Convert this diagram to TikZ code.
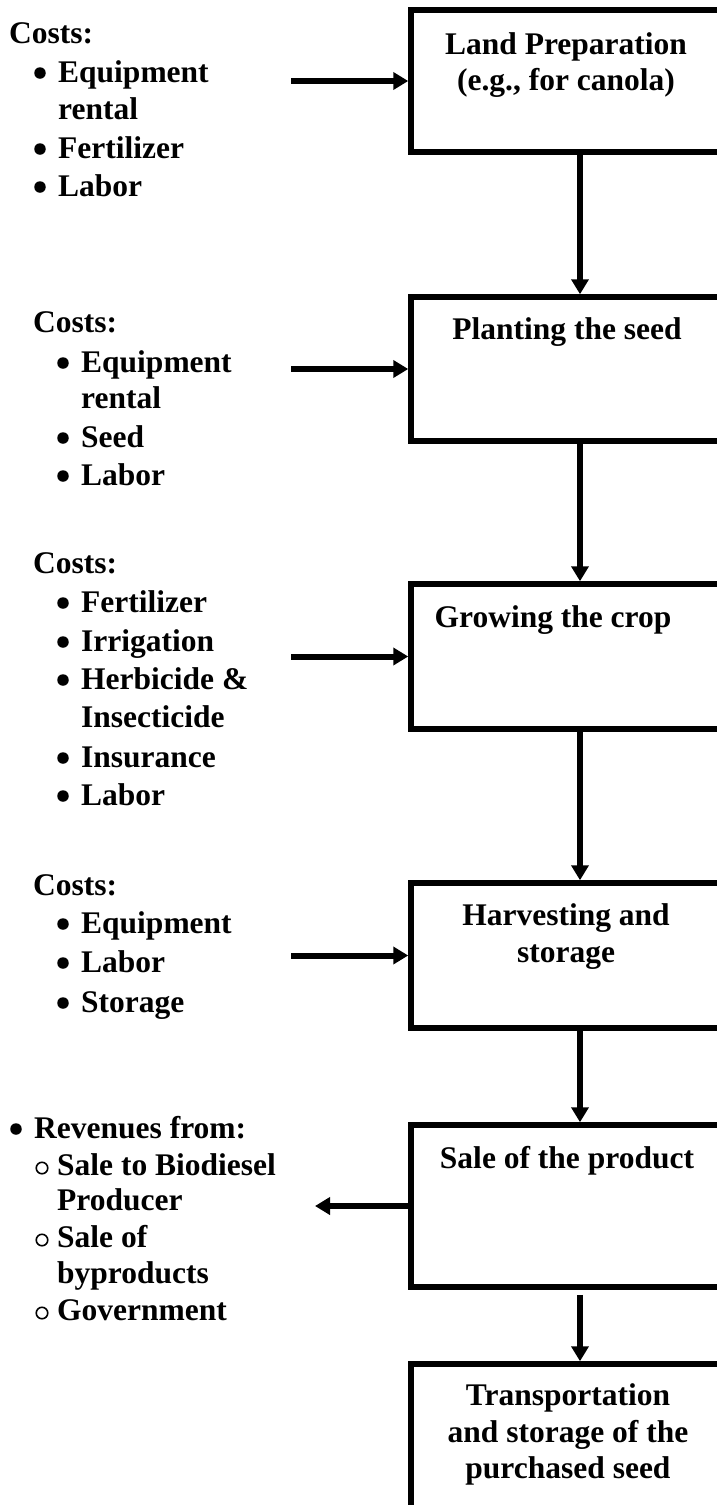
\documentclass[tikz,border=0pt]{standalone}
\usepackage{fontspec}
\setmainfont{Liberation Serif}
\usetikzlibrary{arrows.meta}
\tikzset{
  box/.style={draw, line width=5.5pt, rectangle, inner sep=0pt, minimum width=314pt},
  lbl/.style={font=\bfseries\fontsize{31.5}{37}\selectfont, inner sep=0pt, anchor=base},
  lft/.style={lbl, anchor=base west},
  dot/.style={circle, fill, inner sep=0pt, minimum size=11.5pt},
  ring/.style={circle, draw, line width=1.6pt, inner sep=0pt, minimum size=11.5pt},
  arr/.style={line width=6pt, -{Triangle[length=15pt,width=17pt]}}
}
\begin{document}
\begin{tikzpicture}[x=1pt,y=-1pt]
\useasboundingbox (0,0) rectangle (717,1505);
% boxes
\node[box, minimum height=142pt] (b1) at (568,81) {};
\node[box, minimum height=144pt] (b2) at (568,369) {};
\node[box, minimum height=145pt] (b3) at (568,656.5) {};
\node[box, minimum height=145pt] (b4) at (568,955.5) {};
\node[box, minimum height=162pt] (b5) at (568,1206) {};
\node[box, minimum height=166pt] (b6) at (568,1447) {};
% box texts
\node[lbl] (t1a) at (566,54) {Land Preparation};
\node[lbl] (t1b) at (566,90) {(e.g., for canola)};
\node[lbl] (t2) at (567,339) {Planting the seed};
\node[lbl] (t3) at (553,627) {Growing the crop};
\node[lbl] (t4a) at (566,925) {Harvesting and};
\node[lbl] (t4b) at (566,962) {storage};
\node[lbl] (t5) at (567,1168) {Sale of the product};
\node[lbl] (t6a) at (568,1405) {Transportation};
\node[lbl] (t6b) at (568,1442) {and storage of the};
\node[lbl] (t6c) at (568,1478) {purchased seed};
% vertical connectors
\coordinate (ax) at (580,0);
\draw[arr] (b1.south -| ax) -- (b2.north -| ax);
\draw[arr] (b2.south -| ax) -- (b3.north -| ax);
\draw[arr] (b3.south -| ax) -- (b4.north -| ax);
\draw[arr] (b4.south -| ax) -- (b5.north -| ax);
\draw[arr, shorten <=5pt] (b5.south -| ax) -- (b6.north -| ax);
% horizontal connectors
\coordinate (s1) at (291,81);
\coordinate (s2) at (291,369);
\coordinate (s3) at (291,656.5);
\coordinate (s4) at (291,955.5);
\coordinate (r1) at (315,1206);
\draw[arr] (s1) -- (b1.west);
\draw[arr] (s2) -- (b2.west);
\draw[arr] (s3) -- (b3.west);
\draw[arr] (s4) -- (b4.west);
\draw[arr] (b5.west) -- (r1);
% block 1
\node[lft] (k1) at (9,43) {Costs:};
\node[dot] (k1d1) at (40,73) {};
\node[lft] (k1i1) at (58,82) {Equipment};
\node[lft] (k1i1b) at (58,119) {rental};
\node[dot] (k1d2) at (40,149) {};
\node[lft] (k1i2) at (58,158) {Fertilizer};
\node[dot] (k1d3) at (40,187) {};
\node[lft] (k1i3) at (58,196) {Labor};
% block 2
\node[lft] (k2) at (33,332) {Costs:};
\node[dot] (k2d1) at (63,363) {};
\node[lft] (k2i1) at (81,372) {Equipment};
\node[lft] (k2i1b) at (81,408) {rental};
\node[dot] (k2d2) at (63,438) {};
\node[lft] (k2i2) at (81,447) {Seed};
\node[dot] (k2d3) at (63,476) {};
\node[lft] (k2i3) at (81,485) {Labor};
% block 3
\node[lft] (k3) at (33,573) {Costs:};
\node[dot] (k3d1) at (63,603) {};
\node[lft] (k3i1) at (81,612) {Fertilizer};
\node[dot] (k3d2) at (63,642) {};
\node[lft] (k3i2) at (81,651) {Irrigation};
\node[dot] (k3d3) at (63,680) {};
\node[lft] (k3i3) at (81,689) {Herbicide \&};
\node[lft] (k3i3b) at (81,727) {Insecticide};
\node[dot] (k3d4) at (63,758) {};
\node[lft] (k3i4) at (81,767) {Insurance};
\node[dot] (k3d5) at (63,796) {};
\node[lft] (k3i5) at (81,805) {Labor};
% block 4
\node[lft] (k4) at (33,895) {Costs:};
\node[dot] (k4d1) at (63,924) {};
\node[lft] (k4i1) at (81,933) {Equipment};
\node[dot] (k4d2) at (63,963) {};
\node[lft] (k4i2) at (81,972) {Labor};
\node[dot] (k4d3) at (63,1003) {};
\node[lft] (k4i3) at (81,1012) {Storage};
% revenues
\node[dot] (rvd) at (16,1129) {};
\node[lft] (rv) at (34,1138) {Revenues from:};
\node[ring] (rvo1) at (42,1168) {};
\node[lft] (rv1) at (57,1175) {Sale to Biodiesel};
\node[lft] (rv1b) at (57,1210) {Producer};
\node[ring] (rvo2) at (42,1240) {};
\node[lft] (rv2) at (57,1247) {Sale of};
\node[lft] (rv2b) at (57,1283) {byproducts};
\node[ring] (rvo3) at (42,1313) {};
\node[lft] (rv3) at (57,1320) {Government};
\end{tikzpicture}
\end{document}
